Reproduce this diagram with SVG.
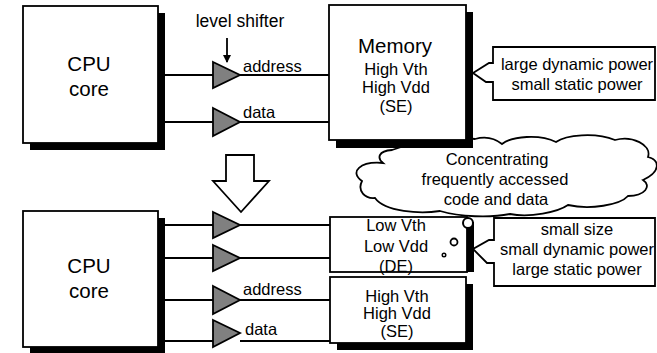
<svg xmlns="http://www.w3.org/2000/svg" width="657" height="353" viewBox="0 0 657 353">
<defs>
<style>
.box{fill:#fff;stroke:#000;stroke-width:1.8}
.sh{fill:#000}
.ln{stroke:#000;stroke-width:1.8;fill:none}
.tri{fill:#808080;stroke:#000;stroke-width:1.8;stroke-linejoin:miter}
.t{font-family:"Liberation Sans",Arial,sans-serif;fill:#000}
.big{font-size:20.5px}
.s{font-size:16.5px}
.c{text-anchor:middle}
</style>
<marker id="ah" markerWidth="8" markerHeight="8" refX="7" refY="4" orient="auto" markerUnits="userSpaceOnUse">
<path d="M0,0 L8,4 L0,8 Z" fill="#000"/>
</marker>
</defs>
<rect width="657" height="353" fill="#fff"/>

<g id="connectors">
<line class="ln" x1="158" y1="75" x2="329" y2="75"/>
<line class="ln" x1="158" y1="122" x2="329" y2="122"/>
<line class="ln" x1="158" y1="225" x2="330" y2="225"/>
<line class="ln" x1="158" y1="258" x2="330" y2="258"/>
<line class="ln" x1="158" y1="300" x2="330" y2="300"/>
<line class="ln" x1="158" y1="341" x2="213" y2="341"/>
<line class="ln" x1="240" y1="341" x2="330" y2="341"/>
<line class="ln" x1="227" y1="38" x2="227" y2="62" marker-end="url(#ah)"/>
</g>

<g id="shifters">
<polygon class="tri" points="213,62 240,75 213,88"/>
<polygon class="tri" points="213,108 240,122 213,136"/>
<polygon class="tri" points="213,212 240,225 213,238"/>
<polygon class="tri" points="213,245 240,258 213,271"/>
<polygon class="tri" points="213,286 240,300 213,314"/>
<polygon class="tri" points="213,320 240,333 213,347"/>
</g>

<g id="labels">
<text class="t s c" x="240" y="27" style="font-size:17.5px">level shifter</text>
<text class="t s" x="243" y="72">address</text>
<text class="t s" x="243" y="118">data</text>
<text class="t s" x="243" y="295">address</text>
<text class="t s" x="245" y="335">data</text>
</g>

<g id="cpu-top">
<rect class="sh" x="30" y="13" width="135" height="137"/>
<rect class="box" x="23" y="6" width="135" height="137"/>
<text class="t big c" x="89" y="71">CPU</text>
<text class="t big c" x="89" y="96">core</text>
</g>

<g id="cloud">
<path class="box" d="M392,150 C378,151 377,158 383,163 C360,161 349,172 362,181 C357,191 365,199 375,198 C385,212 420,214 440,211 C460,217 490,218 510,214 C530,218 558,212 568,205 C590,210 620,205 628,196 C645,196 652,186 643,180 C661,172 660,160 648,157 C652,145 632,135 615,140 C595,132 566,135 556,142 C540,134 512,136 502,144 C492,136 482,137 475,139 C450,136 420,140 392,150 Z"/>
<text class="t s c" x="497" y="165">Concentrating</text>
<text class="t s c" x="495" y="185">frequently accessed</text>
<text class="t s c" x="496" y="205">code and data</text>
</g>

<g id="memory-top">
<rect class="sh" x="336" y="12" width="137" height="136"/>
<rect class="box" x="329" y="5" width="137" height="135"/>
<text class="t big c" x="395" y="53">Memory</text>
<text class="t s c" x="396" y="75">High Vth</text>
<text class="t s c" x="396" y="93">High Vdd</text>
<text class="t s c" x="396" y="112">(SE)</text>
</g>

<g id="callout-top">
<path class="box" d="M655,47 L493,47 L493,63 L489,63 L473,73 L486,82 L493,82 L493,100 L655,100 Z"/>
<text class="t s c" x="577" y="70">large dynamic power</text>
<text class="t s c" x="577" y="90">small static power</text>
</g>

<g id="down-arrow">
<polygon class="box" points="226,155 254,155 254,181 269,181 241,212 213,181 226,181"/>
</g>

<g id="cpu-bottom">
<rect class="sh" x="30" y="218" width="135" height="136"/>
<rect class="box" x="23" y="211" width="135" height="136"/>
<text class="t big c" x="89" y="273">CPU</text>
<text class="t big c" x="89" y="298">core</text>
</g>

<g id="memory-de">
<rect class="sh" x="467" y="222" width="7" height="50"/>
<rect class="box" x="330" y="217" width="137" height="55"/>
<text class="t s c" x="396" y="231">Low Vth</text>
<text class="t s c" x="396" y="252">Low Vdd</text>
<text class="t s c" x="396" y="272">(DE)</text>
<circle cx="468" cy="223" r="5" fill="#fff" stroke="#000" stroke-width="2"/>
<circle cx="454" cy="242" r="3.5" fill="#fff" stroke="#000" stroke-width="1.8"/>
<circle cx="444" cy="255" r="1.8" fill="#fff" stroke="#000" stroke-width="1.4"/>
</g>

<g id="memory-se">
<rect class="sh" x="337" y="284" width="136" height="66"/>
<rect class="box" x="330" y="277" width="136" height="66"/>
<text class="t s c" x="397" y="302">High Vth</text>
<text class="t s c" x="397" y="319">High Vdd</text>
<text class="t s c" x="397" y="337">(SE)</text>
</g>

<g id="callout-bottom">
<path class="box" d="M655,218 L494,218 L494,240 L489,240 L473,249 L487,263 L494,263 L494,286 L655,286 Z"/>
<text class="t s c" x="577" y="235">small size</text>
<text class="t s c" x="577" y="255">small dynamic power</text>
<text class="t s c" x="577" y="275">large static power</text>
</g>
</svg>
